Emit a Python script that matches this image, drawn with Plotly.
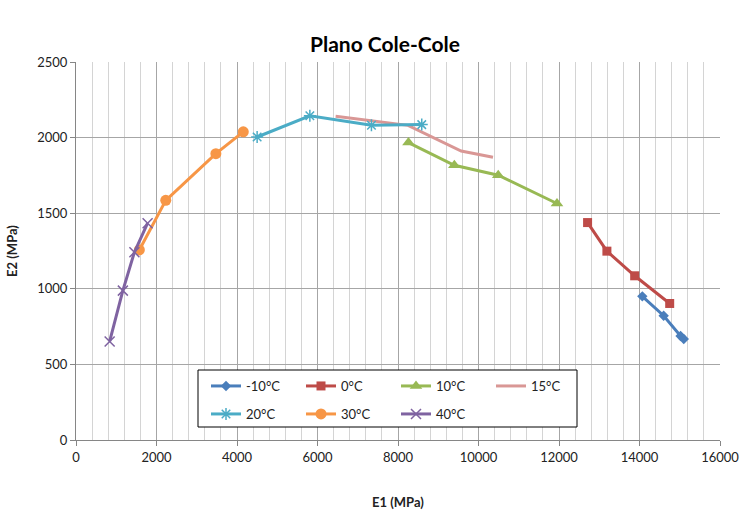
import plotly.graph_objects as go

# ---- data ----
m10_x = [14070, 14600, 15020, 15100]
m10_y = [950, 822, 688, 668]
t0_x = [12710, 13190, 13880, 14750]
t0_y = [1438, 1249, 1086, 903]
t10_x = [8260, 9400, 10490, 11950]
t10_y = [1967, 1817, 1751, 1564]
t15_x = [6450, 8250, 9570, 10360]
t15_y = [2141, 2081, 1911, 1870]
t20_x = [4500, 5810, 7340, 8590]
t20_y = [2004, 2144, 2082, 2086]
t30_x = [1574, 2230, 3475, 4156]
t30_y = [1257, 1585, 1894, 2038]
t40_x = [836, 1164, 1451, 1779]
t40_y = [652, 988, 1242, 1434]

names = ["-10°C", "0°C", "10°C", "15°C", "20°C", "30°C", "40°C"]
xs = [m10_x, t0_x, t10_x, t15_x, t20_x, t30_x, t40_x]
ys = [m10_y, t0_y, t10_y, t15_y, t20_y, t30_y, t40_y]
colors = ["#4A7EBB", "#BE4B48", "#98B954", "#D99795", "#4BACC6", "#F79646", "#7F63A1"]
symbols = ["diamond", "square", "triangle-up", None, "asterisk", "circle", "x-thin"]
sizes = [8, 9, 11, 0, 10, 11, 10]
legends = ["legend", "legend", "legend", "legend", "legend2", "legend2", "legend2"]

FONT = "Lato, 'Open Sans', Arial, sans-serif"

fig = go.Figure()
for n, x, y, c, s, sz, lg in zip(names, xs, ys, colors, symbols, sizes, legends):
    if s is None:
        fig.add_trace(go.Scatter(x=x, y=y, name=n, mode="lines",
                                 line=dict(color=c, width=3), legend=lg))
    else:
        mk = dict(symbol=s, size=sz, color=c)
        if s in ("asterisk", "x-thin"):
            mk["line"] = dict(color=c, width=1.5)
        fig.add_trace(go.Scatter(x=x, y=y, name=n, mode="lines+markers",
                                 line=dict(color=c, width=3), marker=mk, legend=lg))

# legend box
fig.add_shape(type="rect", xref="paper", yref="paper",
              x0=(198 - 76) / 644, x1=(577 - 76) / 644,
              y0=(440 - 427) / 378, y1=(440 - 370) / 378,
              line=dict(color="black", width=1), fillcolor="white", layer="above")

leg_common = dict(orientation="h", bgcolor="rgba(0,0,0,0)", borderwidth=0,
                  font=dict(family=FONT, size=13, color="#222"),
                  entrywidth=50, entrywidthmode="pixels",
                  xanchor="left", yanchor="middle", itemwidth=30, tracegroupgap=0)

fig.update_layout(
    width=741, height=510,
    margin=dict(l=76, r=21, t=62, b=70, autoexpand=False),
    paper_bgcolor="white", plot_bgcolor="white",
    title=dict(text="<b>Plano Cole-Cole</b>", x=385 / 741, xanchor="center",
               y=1 - 45 / 510, yanchor="middle",
               font=dict(family=FONT, size=21, color="black")),
    font=dict(family=FONT, size=13, color="#222"),
    legend=dict(x=(206 - 76) / 644, y=(440 - 386) / 378, **leg_common),
    legend2=dict(x=(206 - 76) / 644, y=(440 - 414) / 378, **leg_common),
    showlegend=True,
)

fig.update_xaxes(range=[0, 16000], dtick=2000, tick0=0, tickformat="d", automargin=False,
                 showgrid=True, gridcolor="#A6A6A6", gridwidth=1,
                 minor=dict(dtick=400, tick0=0, showgrid=True, gridcolor="#D4D4D4", gridwidth=1),
                 showline=True, linecolor="#868686", linewidth=1,
                 ticks="outside", ticklen=5, tickcolor="#868686",
                 zeroline=False,
                 tickfont=dict(family=FONT, size=13, color="#222"),
                 title=dict(text="<b>E1 (MPa)</b>", standoff=35,
                            font=dict(family=FONT, size=13, color="#222")))
fig.update_yaxes(range=[0, 2500], dtick=500, tick0=0, tickformat="d", automargin=False,
                 showgrid=True, gridcolor="#A6A6A6", gridwidth=1,
                 showline=True, linecolor="#868686", linewidth=1,
                 ticks="outside", ticklen=5, tickcolor="#868686",
                 zeroline=False,
                 tickfont=dict(family=FONT, size=13, color="#222"),
                 title=dict(text="<b>E2 (MPa)</b>", standoff=16,
                            font=dict(family=FONT, size=13, color="#222")))

fig.write_html("out.html")
